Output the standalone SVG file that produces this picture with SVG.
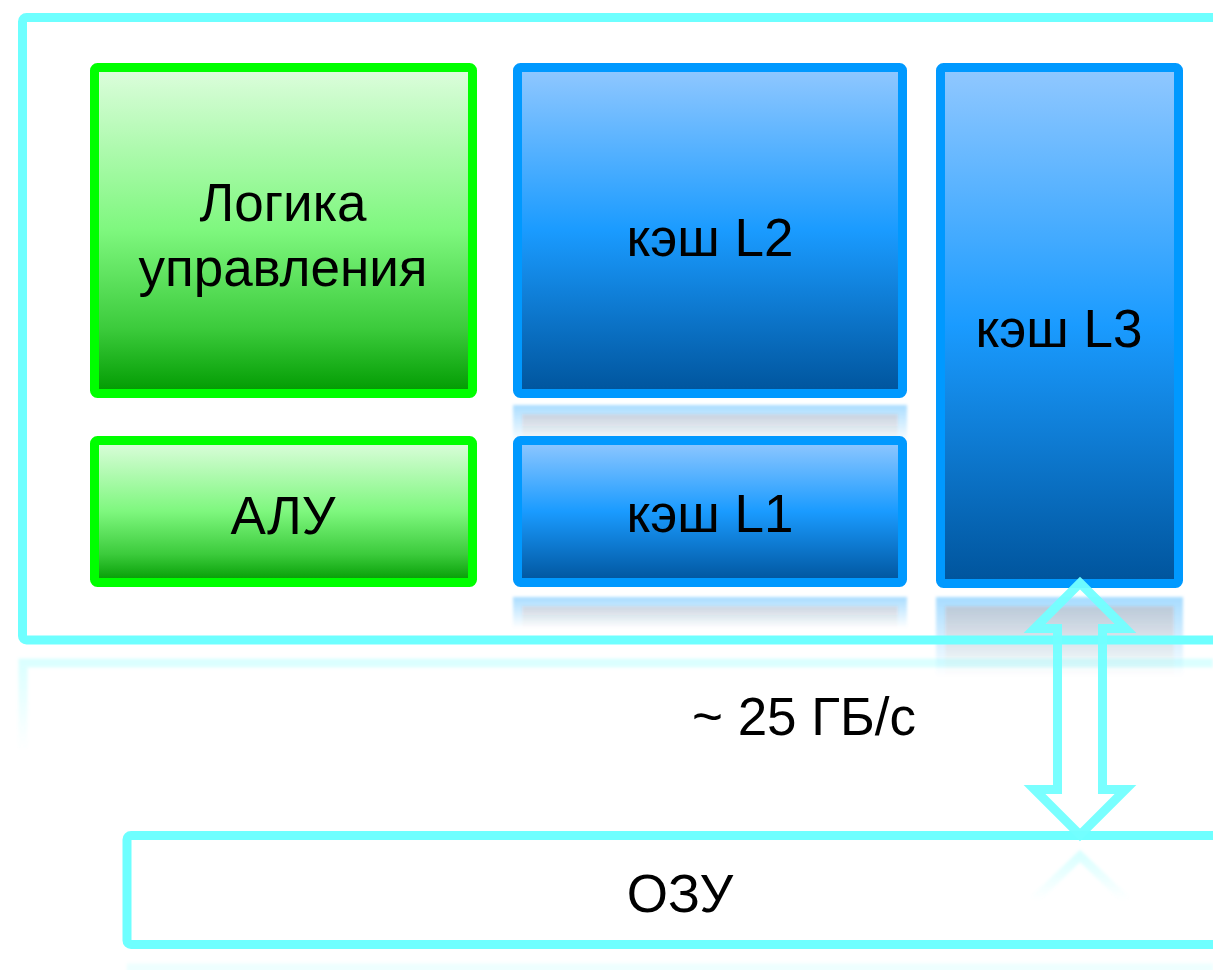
<svg xmlns="http://www.w3.org/2000/svg" width="1213" height="970" viewBox="0 0 1213 970">
<style>
.lbl{font-family:"Liberation Sans",Arial,sans-serif;font-size:53px;fill:#000;text-anchor:middle}
.frame{fill:none;stroke:#6EFFFF;stroke-width:9}
.gbox{fill:url(#gGreen);stroke:#00FF00;stroke-width:9}
.bbox{fill:url(#gBlue);stroke:#0099FF;stroke-width:9}
</style>
<defs>
<linearGradient id="gGreen" x1="0" y1="0" x2="0" y2="1">
<stop offset="0" stop-color="#DDFDDD"/>
<stop offset="0.5" stop-color="#7EF77E"/>
<stop offset="0.8" stop-color="#3CCB3C"/>
<stop offset="1" stop-color="#009A00"/>
</linearGradient>
<linearGradient id="gBlue" x1="0" y1="0" x2="0" y2="1">
<stop offset="0" stop-color="#91C8FF"/>
<stop offset="0.5" stop-color="#1A9BFF"/>
<stop offset="1" stop-color="#00549C"/>
</linearGradient>
<linearGradient id="fade" x1="0" y1="0" x2="0" y2="1">
<stop offset="0" stop-color="#fff" stop-opacity="0.35"/>
<stop offset="1" stop-color="#fff" stop-opacity="0"/>
</linearGradient>
<linearGradient id="fadeC" x1="0" y1="0" x2="0" y2="1">
<stop offset="0" stop-color="#6EFFFF" stop-opacity="0.25"/>
<stop offset="1" stop-color="#6EFFFF" stop-opacity="0"/>
</linearGradient>
<filter id="blur" x="-5%" y="-20%" width="110%" height="140%"><feGaussianBlur stdDeviation="1.5"/></filter>
<mask id="mL2" maskUnits="userSpaceOnUse" x="0" y="0" width="1213" height="970"><rect x="505" y="403" width="410" height="40" fill="url(#fade)"/></mask>
<mask id="mL1" maskUnits="userSpaceOnUse" x="0" y="0" width="1213" height="970"><rect x="505" y="596" width="410" height="32" fill="url(#fade)"/></mask>
<mask id="mL3" maskUnits="userSpaceOnUse" x="0" y="0" width="1213" height="970"><rect x="930" y="596" width="260" height="80" fill="url(#fade)"/></mask>
</defs>
<rect width="1213" height="970" fill="#fff"/>

<g id="reflections" filter="url(#blur)">
<g mask="url(#mL2)"><rect x="513" y="405" width="394" height="40" fill="#0099FF"/><rect x="522" y="414" width="376" height="40" fill="#1F4F80"/></g>
<g mask="url(#mL1)"><rect x="513" y="597" width="394" height="40" fill="#0099FF"/><rect x="522" y="606" width="376" height="40" fill="#1F4F80"/></g>
<g mask="url(#mL3)"><rect x="936" y="597" width="247" height="90" fill="#0099FF"/><rect x="945" y="606" width="229" height="90" fill="#1F4F80"/></g>
<path d="M23,750 V663 H1213" fill="none" stroke="url(#fadeC)" stroke-width="9"/>
<path d="M1034,900 L1080,856 L1126,900" fill="none" stroke="url(#fadeC)" stroke-width="9"/>
<path d="M127,968 H1213" fill="none" stroke="#6EFFFF" stroke-opacity="0.12" stroke-width="9"/>
</g>

<g id="cpu">
<rect class="frame" x="22.5" y="17.5" width="1300" height="622.5" rx="4"/>
</g>

<g id="control">
<rect class="gbox" x="94.5" y="67.5" width="378" height="326" rx="3"/>
<text class="lbl" x="283" y="221">Логика</text>
<text class="lbl" x="283" y="286">управления</text>
</g>
<g id="alu">
<rect class="gbox" x="94.5" y="440.5" width="378" height="142" rx="3"/>
<text class="lbl" x="283" y="534">АЛУ</text>
</g>
<g id="l2">
<rect class="bbox" x="517.5" y="67.5" width="385" height="326" rx="3"/>
<text class="lbl" x="710" y="256">кэш L2</text>
</g>
<g id="l1">
<rect class="bbox" x="517.5" y="440.5" width="385" height="142" rx="3"/>
<text class="lbl" x="710" y="532">кэш L1</text>
</g>
<g id="l3">
<rect class="bbox" x="940.5" y="67.5" width="238" height="516" rx="3"/>
<text class="lbl" x="1059" y="347">кэш L3</text>
</g>
<g id="ram">
<rect class="frame" x="127" y="835.5" width="1200" height="109" rx="4"/>
<text class="lbl" x="680" y="912">ОЗУ</text>
</g>
<g id="connectors">
<polygon points="1080,583 1125.5,628.5 1102.5,628.5 1102.5,789.5 1125.5,789.5 1080,835 1034.5,789.5 1057.5,789.5 1057.5,628.5 1034.5,628.5" fill="none" stroke="#72FFFF" stroke-width="9" stroke-opacity="0.95"/>
<text class="lbl" x="804" y="735">~ 25 ГБ/с</text>
</g>
</svg>
